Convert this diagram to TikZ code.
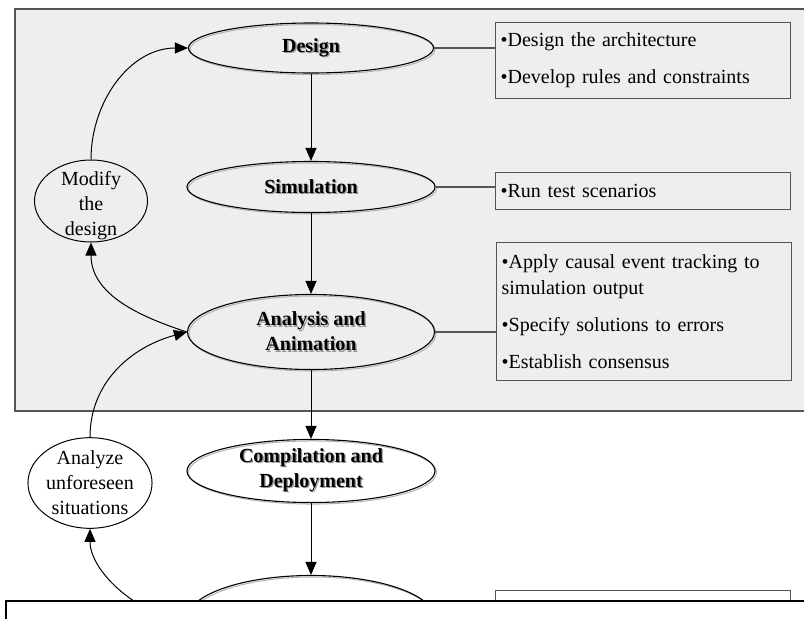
\documentclass[tikz,border=0pt]{standalone}
\usepackage{fontspec}
\setmainfont{Liberation Serif}
\usetikzlibrary{shapes.geometric,arrows.meta}
\definecolor{panelgray}{RGB}{238,238,238}
\definecolor{edgegray}{RGB}{85,85,85}
% bold label with a soft grey offset copy behind it
\newcommand\shd[1]{\leavevmode\rlap{\kern1.4pt\raisebox{-1.4pt}{\color{black!40}#1}}#1}

\begin{document}
\begin{tikzpicture}[x=1pt,y=1pt,
  font=\fontsize{20}{25}\selectfont,
  stage/.style={ellipse, draw=black, line width=1.1pt, inner sep=0pt, align=center,
    font=\fontsize{20}{25}\selectfont\bfseries,
    preaction={draw=black!30, line width=1pt,
      transform canvas={xshift=1.5pt,yshift=-1.5pt}}},
  loopnode/.style={ellipse, draw=black, line width=1pt, inner sep=0pt,
    align=center, minimum width=113pt},
  notebox/.style={rectangle, draw=edgegray, line width=1.3pt, inner xsep=5pt,
    inner ysep=0pt, text width=285pt, align=left, anchor=north west,
    font=\fontsize{20}{26}\selectfont},
  flow/.style={-{Triangle[length=13pt,width=11pt]}, line width=1pt},
  link/.style={draw=edgegray, line width=1.1pt}
]
\useasboundingbox (0,0) rectangle (804,-619);

% shaded panel around the design loop
\node (panel) [fill=panelgray, draw=edgegray, line width=1.5pt, anchor=north west,
  minimum width=816pt, minimum height=402pt, inner sep=0pt] at (14,-8) {};

% main stages
\node (design) [stage, minimum width=245pt, minimum height=50pt] at (311,-48) {\shd{Design}};
\node (sim) [stage, minimum width=248pt, minimum height=51pt] at (311,-187) {\shd{Simulation}};
\node (ana) [stage, minimum width=247pt, minimum height=75pt] at (311,-332) {\shd{Analysis and}\\\shd{Animation}};
\node (comp) [stage, minimum width=248pt, minimum height=62pt] at (311,-471) {\shd{Compilation and}\\\shd{Deployment}};
\node (exec) [stage, minimum width=248pt, minimum height=87pt] at (311,-619) {};

% feedback nodes
\node (modify) [loopnode, minimum height=82pt,
  label={[align=center, yshift=-5pt]center:{Modify\\the\\design}}] at (91,-201) {};
\node (unfor) [loopnode, minimum height=88pt] at (90,-483) {Analyze\\unforeseen\\situations};

% task lists
\node (box1) [notebox, minimum height=76pt] at (495,-22)
  {•Design the architecture\\[11pt]•Develop rules and constraints};
\node (box2) [notebox, minimum height=37pt] at (495,-172) {•Run test scenarios};
\node (box3) [notebox, minimum height=138pt] at (496,-242)
  {•Apply causal event tracking to\\simulation output\\[11pt]•Specify solutions to errors\\[11pt]•Establish consensus};
\node (box4) [notebox, minimum height=60pt] at (495,-590) {};

% stage to task list links
\draw[link] (design.east) -- (design.east -| box1.west);
\draw[link] (sim.east) -- (sim.east -| box2.west);
\draw[link] (ana.east) -- (ana.east -| box3.west);

% main flow
\draw[flow] (design) -- (sim);
\draw[flow] (sim) -- (ana);
\draw[flow] (ana) -- (comp);
\draw[flow] (comp) -- (exec);

% feedback loops
\draw[flow] (modify.north) to[out=90,in=180] (design.west);
\draw[flow] (ana.west) to[out=162,in=-90] (modify.south);
\draw[flow] (unfor.north) to[out=90,in=195] (ana.west);
\draw[flow] (exec.west) to[out=180,in=-90,looseness=0.85] (unfor.south);

% cover band along the lower edge
\node (cover) [fill=white, draw=black, line width=2pt, anchor=north west,
  minimum width=830pt, minimum height=40pt, inner sep=0pt] at (5,-600) {};
\end{tikzpicture}
\end{document}
